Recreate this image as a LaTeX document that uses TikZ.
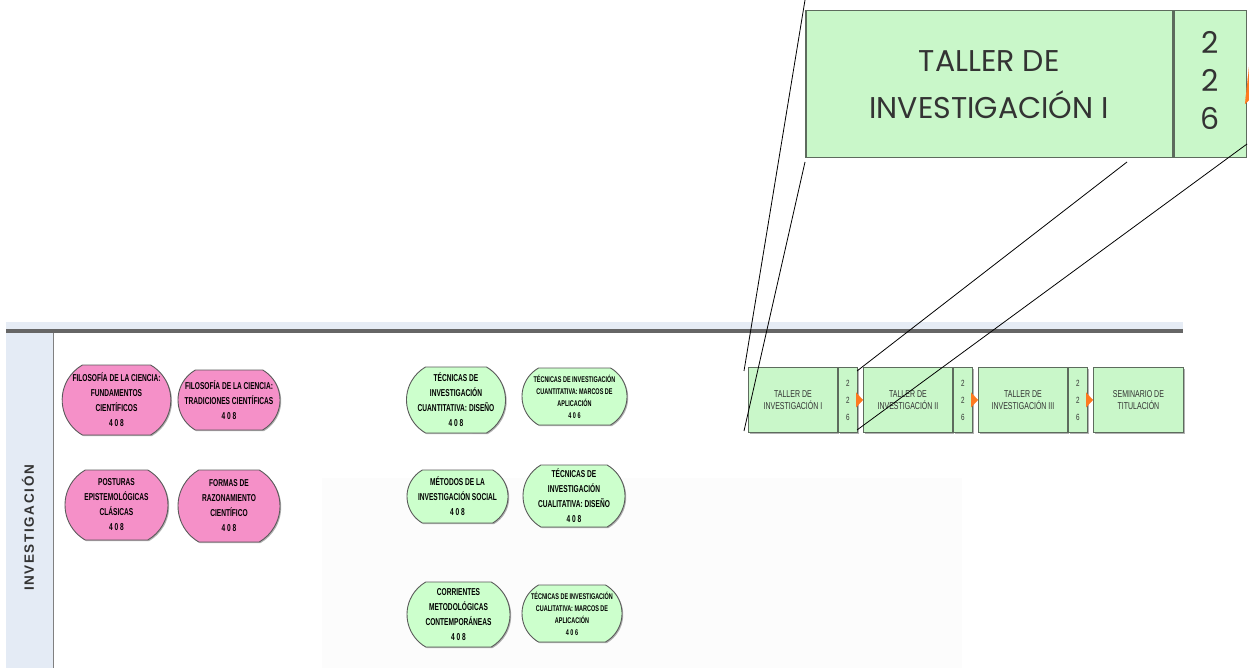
\documentclass[tikz,border=0pt]{standalone}
\usepackage{fontspec}
\setmainfont{Liberation Sans}
\newfontfamily\pillfont[FakeStretch=0.66]{Liberation Sans}
\newfontfamily\boxfont[FakeStretch=0.7]{Liberation Sans}
\newfontfamily\gothic{Poppins}
\newfontfamily\lanefont[LetterSpace=12]{Liberation Sans}
\usetikzlibrary{shapes.misc,shadows,arrows.meta}
\definecolor{pinkfill}{HTML}{F590C8}
\definecolor{greenfill}{HTML}{CCFFCC}
\definecolor{boxfill}{HTML}{C9F7C9}
\definecolor{pillborder}{HTML}{5A5A5A}
\definecolor{boxborder}{HTML}{5D6B5D}
\definecolor{textgray}{HTML}{333333}
\definecolor{headerfill}{HTML}{E4EBF5}
\definecolor{stripfill}{HTML}{E6ECF5}
\definecolor{darkline}{HTML}{666666}
\definecolor{orangetip}{HTML}{FF7A1F}
\definecolor{faintbg}{HTML}{FCFCFC}
\begin{document}
\begin{tikzpicture}[x=1pt,y=-1pt,
  shadowed/.style={drop shadow={shadow xshift=1.2pt,shadow yshift=-1.2pt,opacity=0.3,fill=black}},
  pill/.style={rounded rectangle, rounded rectangle arc length=120, draw=pillborder, line width=0.9pt,
    inner sep=0pt, align=center, text=black, shadowed},
  pinkpill/.style={pill, fill=pinkfill},
  greenpill/.style={pill, fill=greenfill},
  pilltext/.style={font=\pillfont\bfseries\fontsize{10}{15}\selectfont},
  smallpilltext/.style={font=\pillfont\bfseries\fontsize{8.3}{12}\selectfont},
  tmain/.style={draw=boxborder, fill=boxfill, line width=0.9pt, minimum height=65pt, inner sep=0pt,
    font=\boxfont\fontsize{10}{12}\selectfont, text=textgray, align=center, anchor=north west, shadowed},
  tnum/.style={tmain, minimum width=19pt, font=\boxfont\fontsize{9}{17}\selectfont},
  bigmain/.style={draw=boxborder, fill=boxfill, line width=1.5pt, minimum height=147pt, inner sep=0pt,
    font=\gothic\fontsize{30}{47}\selectfont, text=textgray, align=center, anchor=north west},
  bignum/.style={bigmain, minimum width=72pt},
  bignumtext/.style={font=\gothic\fontsize{30}{38}\selectfont, text=textgray, align=center, inner sep=0pt},
  flowarrow/.style={-{Triangle[length=7pt,width=15pt]}, orangetip, line width=0.1pt},
  zoomline/.style={black, line width=0.8pt}
]
\useasboundingbox (0,0) rectangle (1249,668);
% lane frame
\fill[faintbg] (322,478) rectangle (962,668);
\fill[stripfill] (6,322) rectangle (1183,329);
\fill[darkline] (6,329) rectangle (1183,333);
\fill[headerfill] (6,333) rectangle (53,668);
\draw[gray, line width=0.8pt] (53,333) -- (53,668);
\node[rotate=90, font=\lanefont\bfseries\fontsize{13.5}{14}\selectfont, text=textgray] (lane) at (28,528) {INVESTIGACIÓN};

% pink pills
\node[pinkpill, pilltext, minimum width=103pt, minimum height=70pt] (p1) at (116.5,400) {FILOSOFÍA DE LA CIENCIA:\\FUNDAMENTOS\\CIENTÍFICOS\\4 0 8};
\node[pinkpill, pilltext, minimum width=102pt, minimum height=60pt] (p2) at (229,400) {FILOSOFÍA DE LA CIENCIA:\\TRADICIONES CIENTÍFICAS\\4 0 8};
\node[pinkpill, pilltext, minimum width=103pt, minimum height=70pt] (p3) at (116.5,505) {POSTURAS\\EPISTEMOLÓGICAS\\CLÁSICAS\\4 0 8};
\node[pinkpill, pilltext, minimum width=102pt, minimum height=72pt] (p4) at (229,506) {FORMAS DE\\RAZONAMIENTO\\CIENTÍFICO\\4 0 8};

% green pills
\node[greenpill, pilltext, minimum width=98pt, minimum height=66pt] (g1) at (456,400) {TÉCNICAS DE\\INVESTIGACIÓN\\CUANTITATIVA: DISEÑO\\4 0 8};
\node[greenpill, smallpilltext, minimum width=105pt, minimum height=57pt] (g2) at (574.5,396.5) {TÉCNICAS DE INVESTIGACIÓN\\CUANTITATIVA: MARCOS DE\\APLICACIÓN\\4 0 6};
\node[greenpill, pilltext, minimum width=101pt, minimum height=53pt] (g3) at (457.5,496.5) {MÉTODOS DE LA\\INVESTIGACIÓN SOCIAL\\4 0 8};
\node[greenpill, pilltext, minimum width=102pt, minimum height=62pt] (g4) at (574,496) {TÉCNICAS DE\\INVESTIGACIÓN\\CUALITATIVA: DISEÑO\\4 0 8};
\node[greenpill, pilltext, minimum width=103pt, minimum height=65pt] (g5) at (458.5,614.5) {CORRIENTES\\METODOLÓGICAS\\CONTEMPORÁNEAS\\4 0 8};
\node[greenpill, smallpilltext, minimum width=100pt, minimum height=57pt] (g6) at (572,613.5) {TÉCNICAS DE INVESTIGACIÓN\\CUALITATIVA: MARCOS DE\\APLICACIÓN\\4 0 6};

% taller sequence
\node[tmain, minimum width=89pt] (t1) at (748,367) {TALLER DE\\INVESTIGACIÓN I};
\node[tnum] (t1n) at (t1.north east) {2\\2\\6};
\node[tmain, minimum width=89pt] (t2) at (863,367) {TALLER DE\\INVESTIGACIÓN II};
\node[tnum] (t2n) at (t2.north east) {2\\2\\6};
\node[tmain, minimum width=89pt] (t3) at (978,367) {TALLER DE\\INVESTIGACIÓN III};
\node[tnum] (t3n) at (t3.north east) {2\\2\\6};
\node[tmain, minimum width=90pt] (t4) at (1093,367) {SEMINARIO DE\\TITULACIÓN};
\draw[flowarrow] (t1n.east) -- (t2.west);
\draw[flowarrow] (t2n.east) -- (t3.west);
\draw[flowarrow] (t3n.east) -- (t4.west);

% enlarged box
\node[bigmain, minimum width=367pt] (B) at (805,10) {TALLER DE\\INVESTIGACIÓN I};
\node[bignum] (Bn) at (B.north east) {};
\node[bignumtext] (Bnum) at ([yshift=4pt]Bn.center) {2\\2\\6};
\coordinate (Btip) at (1264,86);
\draw[-{Triangle[length=17pt,width=40pt]}, orangetip, line width=0.1pt] ([xshift=1pt]Bn.east) -- (Btip);

% zoom lines
\coordinate (z1a) at (805,0);
\coordinate (z1b) at (744,371);
\coordinate (z2a) at (805,162);
\coordinate (z2b) at (744,431);
\coordinate (z3a) at (1127,162);
\coordinate (z3b) at (857,371);
\coordinate (z4a) at (1247,144);
\coordinate (z4b) at (857,430);
\draw[zoomline] (z1a) -- (z1b);
\draw[zoomline] (z2a) -- (z2b);
\draw[zoomline] (z3a) -- (z3b);
\draw[zoomline] (z4a) -- (z4b);
\end{tikzpicture}
\end{document}
